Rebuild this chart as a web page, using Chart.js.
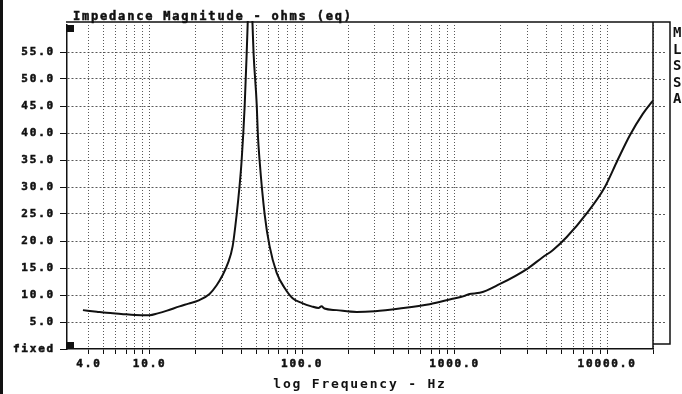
<!DOCTYPE html>
<html>
<head>
<meta charset="utf-8">
<script src="https://cdn.jsdelivr.net/npm/chart.js@4"></script>
<style>
html, body { margin: 0; padding: 0; background: #fff; }
</style>
</head>
<body>
<canvas id="impedance__chart-canvas" width="682" height="394"></canvas>
<script>
// frequency (Hz) and impedance magnitude (ohms)
const freqs = [3.65, 4.5, 5.2, 6.5, 8.0, 10, 11.3, 13, 15.7, 18, 21, 24.7, 27.5, 30, 32.5, 35,
    37.2, 38.9, 40.1, 42, 43.3, 43.9, 45.5, 47.3, 48, 50.4, 51.2, 52.6, 56.8, 61.2, 68.1, 76.8,
    86.6, 100, 115, 128, 134, 140, 168, 228, 300, 436, 686, 970, 1150, 1250, 1460, 1970, 3010,
    3780, 4400, 5420, 7440, 9630, 11730, 14050, 17100, 19600, 20000];
const impedance = [7.2, 6.9, 6.7, 6.5, 6.3, 6.25, 6.6, 7.1, 7.9, 8.4, 9.0, 10.2, 11.8, 13.6, 15.8, 19.0,
    24.9, 30.3, 34.9, 45.1, 54.9, 59.9, 72, 59.9, 54.9, 45.1, 39.9, 34.9, 24.9, 19.0, 14.1, 11.3,
    9.4, 8.5, 7.9, 7.6, 7.9, 7.5, 7.2, 6.85, 7.0, 7.5, 8.3, 9.3, 9.8, 10.2, 10.4, 12.0, 14.9,
    17.0, 18.3, 20.7, 25.3, 29.9, 35.0, 39.5, 43.5, 45.7, 46.0];

const freqTicks = [4, 5, 6, 7, 8, 9, 10, 20, 30, 40, 50, 60, 70, 80, 90, 100, 200, 300, 400, 500,
    600, 700, 800, 900, 1000, 2000, 3000, 4000, 5000, 6000, 7000, 8000, 9000, 10000, 20000];
const freqLabels = {4: "4.0", 10: "10.0", 100: "100.0", 1000: "1000.0", 10000: "10000.0"};
const ohmTicks = [0, 5, 10, 15, 20, 25, 30, 35, 40, 45, 50, 55, 60];
const ohmLabels = ["fixed", "5.0", "10.0", "15.0", "20.0", "25.0", "30.0", "35.0", "40.0", "45.0", "50.0", "55.0", ""];
const sideLetters = ["M", "L", "S", "S", "A"];

const chartTitle = "Impedance Magnitude - ohms (eq)";
const mono = "'DejaVu Sans Mono', 'Liberation Mono', monospace";

const framePlugin = {
    id: "frame",
    beforeDraw(chart) {
        chart.ctx.letterSpacing = "1.8px";
    },
    afterDraw(chart) {
        const ctx = chart.ctx;
        const a = chart.chartArea;
        const y = chart.scales.y;
        ctx.save();
        ctx.letterSpacing = "1.8px";
        ctx.fillStyle = "#111";
        ctx.strokeStyle = "#111";

        // title (a thin stroke makes it heavier, like the printout)
        ctx.font = "bold 12px " + mono;
        ctx.textBaseline = "alphabetic";
        ctx.textAlign = "left";
        ctx.lineWidth = 0.5;
        ctx.fillText(chartTitle, a.left + 6, a.top - 5);
        ctx.strokeText(chartTitle, a.left + 6, a.top - 5);

        // frame: top rule, right end line, side box
        ctx.lineWidth = 1.5;
        ctx.beginPath();
        ctx.moveTo(a.left - 1, a.top - 3);
        ctx.lineTo(a.right + 17, a.top - 3);
        ctx.lineTo(a.right + 17, a.bottom - 5);
        ctx.lineTo(a.right, a.bottom - 5);
        ctx.moveTo(a.right, a.top - 3);
        ctx.lineTo(a.right, a.bottom);
        ctx.stroke();

        // short dashes in the side box
        ctx.lineWidth = 1;
        ctx.strokeStyle = "rgba(60,60,60,0.85)";
        ctx.setLineDash([2, 2]);
        ohmTicks.slice(1, -1).forEach(v => {
            const py = Math.round(y.getPixelForValue(v)) + 0.5;
            ctx.beginPath();
            ctx.moveTo(a.right + 2, py);
            ctx.lineTo(a.right + 12, py);
            ctx.stroke();
        });
        ctx.setLineDash([]);

        // corner squares
        ctx.fillRect(a.left, a.top, 7, 7);
        ctx.fillRect(a.left, a.bottom - 7, 7, 7);

        // left scan edge
        ctx.fillRect(0, 0, 3, chart.height);

        // cut-off side text
        ctx.font = "bold 14px " + mono;
        sideLetters.forEach((s, i) => ctx.fillText(s, a.right + 20, 37 + i * 16.5));
        ctx.restore();
        ctx.letterSpacing = "0px";
    }
};

new Chart(document.getElementById("impedance__chart-canvas").getContext("2d"), {
    type: "line",
    data: {
        datasets: [{
            data: freqs.map((f, i) => ({x: f, y: impedance[i]})),
            borderColor: "#111",
            borderWidth: 2,
            pointRadius: 0,
            cubicInterpolationMode: "monotone",
            clip: {left: 0, top: 4, right: 0, bottom: 0}
        }]
    },
    options: {
        responsive: false,
        animation: false,
        devicePixelRatio: 1,
        layout: {
            padding: {top: 25, right: 29, left: 0, bottom: 0}
        },
        plugins: {
            legend: {display: false},
            tooltip: {enabled: false}
        },
        scales: {
            x: {
                type: "logarithmic",
                min: 2.87,
                max: 20000,
                afterBuildTicks: s => { s.ticks = freqTicks.map(v => ({value: v})); },
                afterFit: s => { s.height = 45; },
                ticks: {
                    autoSkip: false,
                    maxRotation: 0,
                    padding: 4,
                    color: "#111",
                    textStrokeColor: "#111",
                    textStrokeWidth: 0.5,
                    font: {family: mono, weight: "bold", size: 11},
                    callback: v => freqLabels[v] || ""
                },
                grid: {
                    color: "rgba(60,60,60,0.85)",
                    tickColor: "#111",
                    tickLength: 5
                },
                border: {color: "#111", width: 1.5, dash: [1, 2]},
                title: {
                    display: true,
                    text: "log Frequency - Hz",
                    color: "#111",
                    font: {family: mono, weight: "bold", size: 13},
                    padding: {top: 0, bottom: 2}
                }
            },
            y: {
                min: 0,
                max: 60,
                afterBuildTicks: s => { s.ticks = ohmTicks.map(v => ({value: v})); },
                afterFit: s => { s.width = 67; },
                ticks: {
                    autoSkip: false,
                    padding: 5,
                    color: "#111",
                    textStrokeColor: "#111",
                    textStrokeWidth: 0.5,
                    font: {family: mono, weight: "bold", size: 11},
                    callback: (v, i) => ohmLabels[i]
                },
                grid: {
                    color: c => (c.tick && (c.tick.value === 0 || c.tick.value === 60)) ? "rgba(0,0,0,0)" : "rgba(60,60,60,0.85)",
                    tickColor: c => (c.tick && c.tick.value === 60) ? "rgba(0,0,0,0)" : "#111",
                    tickLength: 7
                },
                border: {color: "#111", width: 1.5, dash: [2, 2]}
            }
        }
    },
    plugins: [framePlugin]
});
</script>
</body>
</html>
